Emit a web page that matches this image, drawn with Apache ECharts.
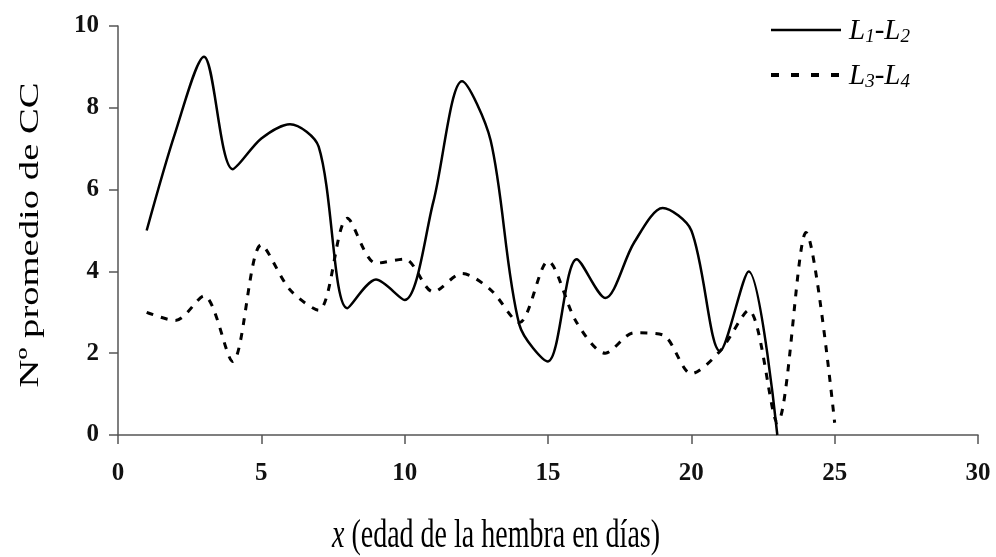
<!DOCTYPE html>
<html>
<head>
<meta charset="utf-8">
<script src="https://cdn.jsdelivr.net/npm/echarts@6/dist/echarts.min.js"></script>
<style>
html,body{margin:0;padding:0;background:#fff;}
#chart{width:996px;height:557px;}
</style>
</head>
<body>
<div id="chart"></div>
<script>
// ---- data ----
var daysA = [1,2,3,4,5,6,7,8,9,10,11,12,13,14,15,16,17,18,19,20,21,22,23];
var seriesL12 = [5.0,7.4,9.25,6.5,7.25,7.6,7.05,3.1,3.8,3.3,5.7,8.65,7.2,2.7,1.8,4.3,3.35,4.7,5.55,5.0,2.05,4.0,0.0];
var daysB = [1,2,3,4,5,6,7,8,9,10,11,12,13,14,15,16,17,18,19,20,21,22,23,24,25];
var seriesL34 = [3.0,2.8,3.4,1.8,4.65,3.55,3.05,5.3,4.2,4.3,3.5,3.95,3.55,2.75,4.25,2.75,2.0,2.5,2.45,1.5,2.05,3.05,0.3,4.95,0.3];
var seriesNames = ['L1-L2','L3-L4'];
var xTicks = [0,5,10,15,20,25,30];
var yTicks = [0,2,4,6,8,10];
var xTitle = 'x (edad de la hembra en días)';
var yTitle = 'Nº promedio de CC';

function pairs(xs, ys){ return xs.map(function(x,i){ return [x, ys[i]]; }); }

var serif = '"Liberation Serif", "Times New Roman", serif';
var axisColor = '#555';

var chart = echarts.init(document.getElementById('chart'));
chart.setOption({
  backgroundColor: '#fff',
  animation: false,
  grid: { left: 118, right: 18, top: 26, bottom: 122, containLabel: false },
  legend: {
    orient: 'vertical',
    left: 764,
    top: 12,
    itemWidth: 70,
    itemHeight: 14,
    itemGap: 16,
    data: [
      { name: seriesNames[0], lineStyle: { width: 2.5, type: 'solid', color: '#000' } },
      { name: seriesNames[1], lineStyle: { width: 4, type: [8, 12], color: '#000' } }
    ],
    itemStyle: { opacity: 0 },
    formatter: function(name){
      var p = name.split('-');
      return '{l|' + p[0].charAt(0) + '}{s|' + p[0].charAt(1) + '}{n|-}{l|' + p[1].charAt(0) + '}{s|' + p[1].charAt(1) + '}';
    },
    textStyle: {
      padding: [0,0,0,3],
      rich: {
        l: { fontFamily: serif, fontSize: 29, fontStyle: 'italic', color: '#000', lineHeight: 32, verticalAlign: 'bottom' },
        s: { fontFamily: serif, fontSize: 19, fontStyle: 'italic', color: '#000', lineHeight: 23, verticalAlign: 'bottom' },
        n: { fontFamily: serif, fontSize: 29, color: '#000', lineHeight: 32, verticalAlign: 'bottom' }
      }
    }
  },
  xAxis: {
    type: 'value',
    min: xTicks[0],
    max: xTicks[xTicks.length-1],
    interval: 5,
    splitLine: { show: false },
    axisLine: { lineStyle: { color: axisColor, width: 1.5 } },
    axisTick: { show: true, length: 9, lineStyle: { color: axisColor, width: 1.5 } },
    axisLabel: { margin: 26, fontFamily: serif, fontSize: 25, fontWeight: 'bold', color: '#111' }
  },
  yAxis: {
    type: 'value',
    min: yTicks[0],
    max: yTicks[yTicks.length-1],
    interval: 2,
    splitLine: { show: false },
    axisLine: { show: true, lineStyle: { color: axisColor, width: 1.5 } },
    axisTick: { show: true, length: 9, lineStyle: { color: axisColor, width: 1.5 } },
    axisLabel: { margin: 19, fontFamily: serif, fontSize: 25, fontWeight: 'bold', color: '#111' }
  },
  graphic: [
    {
      type: 'text',
      x: 31, y: 235,
      rotation: Math.PI / 2,
      scaleX: 1.38,
      style: { text: yTitle, fontFamily: serif, fontSize: 28, fill: '#000', align: 'center', verticalAlign: 'middle' }
    },
    {
      type: 'text',
      x: 496, y: 536,
      scaleY: 1.45,
      style: {
        text: '{i|x}{r|' + xTitle.slice(1) + '}',
        align: 'center', verticalAlign: 'middle',
        rich: {
          i: { fontFamily: serif, fontSize: 28, fontStyle: 'italic', fill: '#000' },
          r: { fontFamily: serif, fontSize: 28, fill: '#000' }
        }
      }
    }
  ],
  series: [
    {
      name: seriesNames[0],
      type: 'line',
      data: pairs(daysA, seriesL12),
      smooth: 0.3,
      symbol: 'none',
      lineStyle: { color: '#000', width: 2.5, type: 'solid' },
      itemStyle: { color: '#000' }
    },
    {
      name: seriesNames[1],
      type: 'line',
      data: pairs(daysB, seriesL34),
      smooth: 0.3,
      symbol: 'none',
      lineStyle: { color: '#000', width: 3, type: [7, 8] },
      itemStyle: { color: '#000' }
    }
  ]
});
</script>
</body>
</html>
